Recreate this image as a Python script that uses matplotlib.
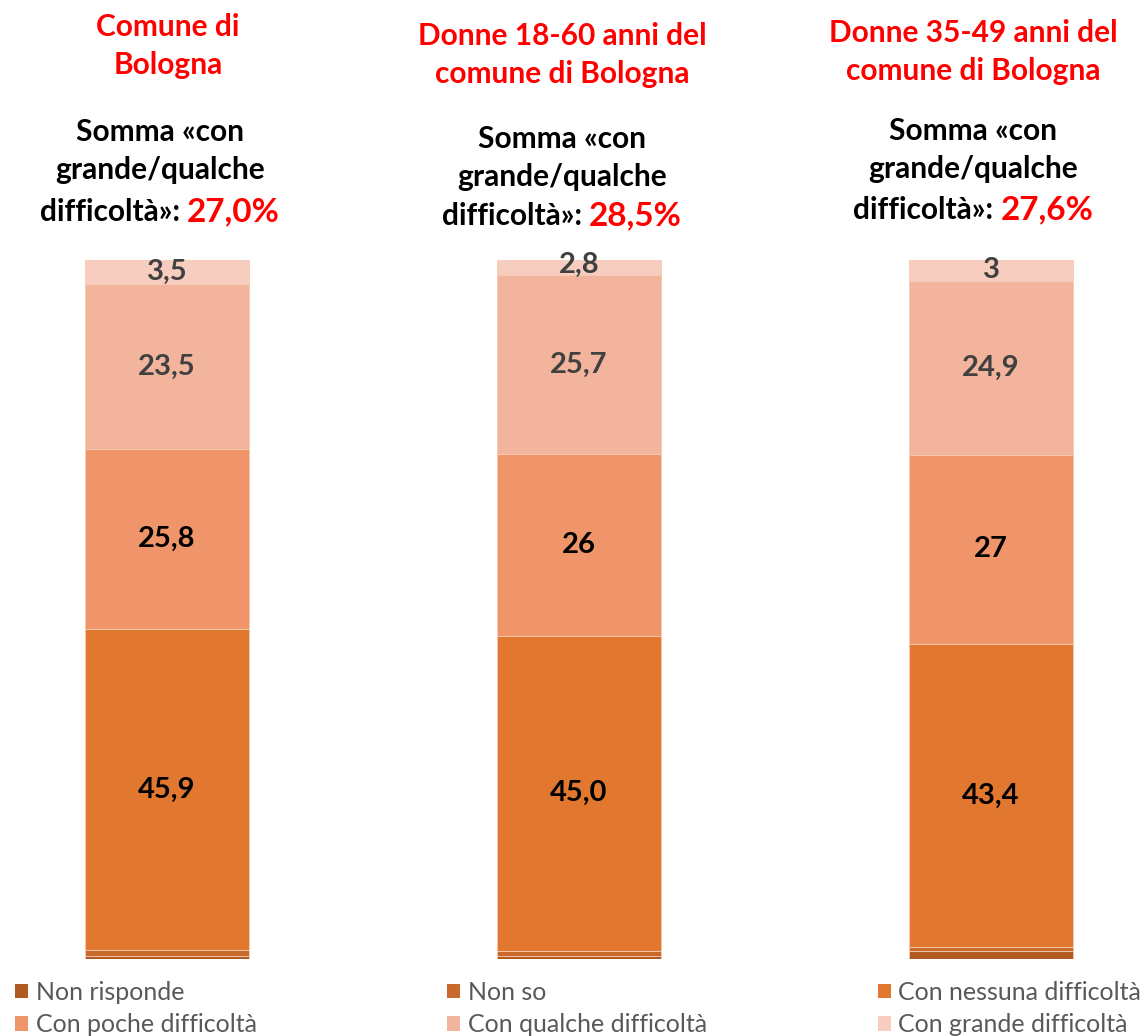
import matplotlib
matplotlib.use('Agg')
import matplotlib.pyplot as plt
from matplotlib.patches import Patch

plt.rcParams['font.family'] = ['Lato', 'DejaVu Sans']

# data
groups = ['Comune di\nBologna', 'Donne 18-60 anni del\ncomune di Bologna', 'Donne 35-49 anni del\ncomune di Bologna']
sum_pct = ['27,0%', '28,5%', '27,6%']
categories = ['Non risponde', 'Non so', 'Con nessuna difficoltà',
              'Con poche difficoltà', 'Con qualche difficoltà', 'Con grande difficoltà']
non_risponde = [0.4, 0.5, 1.1]
non_so = [0.9, 0.7, 0.6]
nessuna = [45.9, 45.0, 43.4]
poche = [25.8, 26.0, 27.0]
qualche = [23.5, 25.7, 24.9]
grande = [3.5, 2.8, 3.0]
lbl_nessuna = ['45,9', '45,0', '43,4']
lbl_poche = ['25,8', '26', '27']
lbl_qualche = ['23,5', '25,7', '24,9']
lbl_grande = ['3,5', '2,8', '3']

colors = ['#B05A22', '#C96A2C', '#E2782F', '#F0956A', '#F2B49C', '#F7CDBF']

fig = plt.figure(figsize=(11.45, 10.36), dpi=100)
W, H = 1145, 1036
ax = fig.add_axes([0, 1 - 959 / H, 1, (959 - 260) / H])
ax.set_xlim(-167 / 412, (W - 167) / 412)
ax.set_ylim(0, 100)
ax.axis('off')

x = [0, 1, 2]
bw = 164 / 412
series = [non_risponde, non_so, nessuna, poche, qualche, grande]
labels = [None, None, lbl_nessuna, lbl_poche, lbl_qualche, lbl_grande]
lab_colors = [None, None, 'black', 'black', '#404040', '#404040']
bottom = [0, 0, 0]
for vals, col, labs, lc in zip(series, colors, labels, lab_colors):
    ax.bar(x, vals, bw, bottom=bottom, color=col, edgecolor='#F6C9B0', linewidth=0.6)
    if labs:
        for i in range(3):
            ax.text(x[i], bottom[i] + vals[i] / 2, labs[i], ha='center', va='center',
                    fontsize=21, fontweight='bold', color=lc)
    bottom = [b + v for b, v in zip(bottom, vals)]

# titles above each bar
title_x = [168, 562, 973]
black_x = [160, 562, 973]
title_y = [46, 55, 52]
somma_y = [151, 158, 150]
last_y = [212, 216, 210]
fig.canvas.draw()
r = fig.canvas.get_renderer()
for i in range(3):
    fig.text(title_x[i] / W, 1 - title_y[i] / H, groups[i], ha='center', va='center', color='red',
             fontsize=21.5, fontweight='bold', linespacing=1.4)
    fig.text(black_x[i] / W, 1 - somma_y[i] / H, 'Somma «con\ngrande/qualche', ha='center',
             va='center', color='black', fontsize=21.5, fontweight='bold', linespacing=1.4)
    t1 = fig.text(0, 1 - last_y[i] / H, 'difficoltà»: ', ha='left', va='center',
                  color='black', fontsize=21.5, fontweight='bold')
    t2 = fig.text(0, 1 - last_y[i] / H, sum_pct[i], ha='left', va='center',
                  color='red', fontsize=24, fontweight='bold')
    w1 = t1.get_window_extent(r).width
    w2 = t2.get_window_extent(r).width
    left = black_x[i] - (w1 + w2) / 2
    t1.set_x(left / W)
    t2.set_x((left + w1) / W)

# legend, three columns
order = [(0, 3), (1, 4), (2, 5)]
leg_x = [15, 447, 878]
for (a, b), lx in zip(order, leg_x):
    handles = [Patch(facecolor=colors[a], label=categories[a]),
               Patch(facecolor=colors[b], label=categories[b])]
    fig.legend(handles=handles, loc='upper left', bbox_to_anchor=(lx / W, 1 - 981 / H),
               frameon=False, fontsize=18, labelcolor='#595959', handlelength=0.52,
               handleheight=0.52, handletextpad=0.3, labelspacing=0.38, borderpad=0,
               borderaxespad=0)

fig.savefig('out.png', dpi=100)
